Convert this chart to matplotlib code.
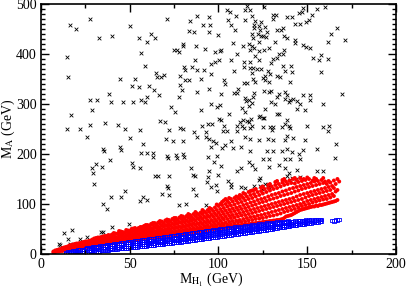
import numpy as np
import matplotlib
matplotlib.use("Agg")
import matplotlib.pyplot as plt
from matplotlib.ticker import MultipleLocator

plt.rcParams['font.family'] = ['Liberation Serif', 'DejaVu Serif']
plt.rcParams['mathtext.fontset'] = 'stix'

# excluded points (black crosses), (M_H1, M_A) in GeV
black_pts = [
    (27.6,470),(16.3,458),(19.7,451),(50.1,456),(70.8,470),(88.1,477),(94.5,475),(83.9,466),
    (91.5,459),(95.4,458),(83.2,446),(86.2,444),(94.5,445),(99.7,439),(32.5,433),(40.0,436),
    (55.0,433),(62.1,441),(64.4,433),(59.5,425),(79.8,421),(80.2,416),(74.9,408),(76.4,408),
    (77.9,404),(87.3,416),(92.2,411),(97.8,404),(56.2,403),(14.8,395),(86.5,388),(80.6,375),
    (81.0,368),(85.1,375),(87.7,369),(91.8,368),(95.6,380),(98.2,384),(58.4,377),(64.8,363),
    (65.5,355),(67.4,355),(69.3,358),(78.3,356),(81.0,348),(83.2,348),(90.0,351),(95.6,361),
    (44.5,351),(52.8,351),(15.2,355),(51.3,337),(55.0,335),(60.7,337),(63.7,329),(78.3,339),
    (79.4,329),(94.5,331),(88.1,324),(38.5,320),(27.6,308),(31.4,309),(39.6,305),(46.4,305),
    (52.0,304),(56.2,308),(58.4,304),(59.5,315),(66.7,318),(77.6,315),(73.4,295),(75.7,285),
    (90.0,289),(95.6,301),(99.0,295),(28.7,289),(16.7,278),(67.0,267),(70.0,265),(27.6,259),
    (36.2,263),(43.4,259),(47.1,251),(55.7,249),(14.5,251),(22.0,251),(78.3,253),(80.2,251),
    (90.7,256),(94.1,261),(96.3,261),(100.1,271),
    (25.7,235),(72.3,249),(86.2,245),(93.0,245),(93.0,234),(94.8,231),(87.7,235),(70.4,230),
    (74.5,226),(80.2,227),(96.7,226),(98.6,223),(95.6,214),(35.1,211),(35.5,206),(44.5,214),
    (44.9,209),(50.1,233),(57.6,221),(56.5,202),(59.9,202),(62.9,202),(63.3,194),(70.8,197),
    (71.5,193),(76.1,198),(76.4,193),(79.8,201),(80.6,195),(94.1,195),(97.4,185),(99.3,197),
    (38.9,189),(31.0,181),(28.7,173),(34.4,174),(29.5,162),(51.3,182),(51.6,175),(55.8,173),
    (64.0,157),(65.9,157),(71.9,157),(84.3,173),(85.8,159),(86.5,157),(94.5,167),(94.1,155),
    (99.7,159),(93.7,145),(95.6,134),(98.6,138),(98.9,127),(71.2,137),(71.5,133),(85.4,130),
    (87.3,118),(68.2,121),(72.3,118),(29.9,141),(39.6,114),(45.3,114),(47.5,127),(55.8,107),
    (57.6,115),(59.9,109),(35.1,101),(37.4,91),(77.5,98),(81.7,101),(93.0,98),(49.4,61),
    (40.0,54),(34.0,45),(34.7,45),(13.0,42),(17.5,49),(15.2,31),(22.0,31),(25.7,35),
    (9.9,21),(10.7,18),(16.3,21),
    (104.6,489),(106.5,485),(115.1,489),(117.7,488),(116.2,496),(125.6,495),(147.8,492),(155.3,491),
    (160.2,495),(109.9,476),(118.9,476),(105.4,468),(115.1,468),(120.7,467),(130.9,479),(132.4,479),
    (130.5,471),(138.4,475),(141.4,475),(145.2,483),(147.0,484),(152.7,479),(150.8,469),(149.3,465),
    (145.9,460),(143.3,460),(106.9,459),(120.0,459),(123.0,457),(123.8,464),(126.0,455),(120.0,453),
    (123.4,449),(109.5,449),(118.9,441),(127.2,445),(122.3,441),(123.8,436),(124.9,437),(126.8,435),
    (132.8,449),(135.4,449),(136.5,452),(166.9,452),(163.2,440),(171.1,429),(161.7,425),(119.6,433),
    (136.9,437),(138.8,433),(143.3,428),(142.9,423),(131.7,424),(122.6,424),(108.3,423),(114.0,416),
    (117.0,421),(118.9,417),(120.0,413),(117.7,408),(125.6,408),(128.3,412),(123.0,407),(110.6,401),
    (100.8,407),(101.6,408),(147.8,418),(149.3,415),(151.5,413),(134.3,401),(136.9,408),(136.5,400),
    (132.8,393),(130.9,391),(120.7,396),(122.6,389),(129.7,383),(117.7,385),(114.4,384),(106.9,388),
    (100.5,389),(114.4,375),(117.7,372),(119.3,372),(121.9,371),(124.1,371),(127.9,367),(129.0,360),
    (126.4,357),(125.2,353),(126.0,349),(128.6,344),(132.8,357),(134.6,355),(137.6,367),(136.2,377),
    (140.7,377),(141.4,364),(140.3,345),(118.9,363),(119.6,351),(114.4,343),(115.9,343),(120.7,345),
    (108.7,367),(103.1,348),(103.8,341),(153.1,392),(156.4,388),(157.9,399),(161.7,391),(157.9,365),
    (169.6,320),(147.8,319),(151.5,319),(137.6,325),(138.8,319),(137.3,311),(140.3,308),(141.8,311),
    (144.4,307),(145.9,300),(148.6,289),(151.5,308),(159.0,300),(144.1,291),(139.5,304),(133.9,320),
    (133.1,315),(129.7,305),(131.7,301),(132.8,281),(133.9,280),(138.8,269),(126.4,291),(123.4,276),
    (122.6,275),(124.9,272),(125.6,273),(117.4,308),(119.3,315),(120.0,323),(125.6,327),(128.3,325),
    (129.4,327),(111.0,331),(110.3,323),(108.7,323),(101.6,320),(114.8,313),(115.5,307),(118.9,303),
    (113.2,293),(117.0,296),(114.8,284),(114.0,269),(115.9,267),(117.4,264),(118.1,271),(112.1,264),
    (113.2,257),(118.9,256),(117.7,252),(114.4,252),(110.3,257),(105.7,280),(100.8,299),(101.2,268),
    (103.1,256),(125.2,255),(129.0,255),(130.9,255),(135.8,255),(137.6,260),(139.5,257),(140.3,253),
    (150.0,256),(159.0,255),(162.4,257),(130.1,249),
    (102.4,246),(104.6,247),(110.3,247),(161.7,246),(102.0,213),(103.4,218),(107.2,227),(115.1,235),
    (117.7,231),(123.0,229),(127.9,230),(130.5,229),(137.6,229),(138.4,237),(141.8,233),(148.6,229),
    (155.3,210),(166.2,221),(165.5,193),(108.3,213),(112.9,215),(117.7,207),(127.2,207),(130.5,207),
    (135.8,207),(138.8,210),(141.4,205),(145.2,201),(147.8,209),(125.2,190),(128.3,190),(137.3,191),
    (140.3,191),(145.9,190),(134.3,179),(117.4,185),(118.9,179),(101.2,177),(110.3,167),(112.9,173),
    (120.4,170),(128.6,174),(137.6,173),(144.4,169),(155.3,167),(159.0,167),(139.9,163),(138.8,157),
    (140.3,149),(141.4,153),(143.7,151),(145.9,154),(123.4,153),(122.6,149),(105.4,146),(106.9,141),
    (106.9,135),(112.5,135),(114.8,133),(120.0,137),(123.4,137),(126.2,141),(127.9,138),(128.6,134),
    (124.5,131),
]

# red circles, read column by column: M_H1 -> list of M_A
red_cols = [
    (7,[3,5]),(8,[4,7]),(9,[5,8]),(10,[5,9]),(11,[6,10]),(12,[6,9,12]),(13,[7,10,13]),
    (14,[7,11,14]),(15,[8,12,15]),(16,[9,13,17]),(17,[9,13,18]),(18,[10,14,19]),(19,[10,15,20]),
    (20,[11,16,21]),(22,[12,17,22]),(24,[13,18,24]),(26,[14,19,25]),(28,[15,21,27]),
    (30,[16,22,28,31]),(32,[17,23,29,33]),(34,[18,24,30,34]),(36,[19,25,31,36]),
    (38,[20,26,32,38]),(40,[21,27,33,39]),(42,[22,28,34,41]),(44,[23,29,36,43,46]),
    (46,[24,30,37,44]),(48,[25,31,38,45,48]),(50,[26,32,39,46]),(52,[27,33,40,47,51]),
    (54,[28,34,41,48]),(56,[29,35,42,49,54]),(58,[30,36,43,50,56]),(60,[31,37,44,51,58]),
    (62,[32,38,45,52,60]),(64,[33,39,46,54,62]),(66,[34,41,48,55,63]),(68,[35,42,49,57,65]),
    (70,[36,43,50,58,67]),(72,[37,44,52,60,68]),(74,[38,45,53,61,70]),(76,[39,46,54,63,72]),
    (78,[40,47,55,64,73]),(80,[41,48,57,66,75]),(82,[42,50,58,67,76]),(84,[43,51,60,69,78]),
    (86,[44,52,61,70,80]),(88,[45,53,62,72,81]),(90,[46,54,64,74,83]),(92,[47,56,65,75,85]),
    (94,[48,57,67,77,88]),(96,[49,58,68,79,90]),(98,[50,60,70,81,93]),(100,[51,61,72,83,96]),
    (102,[52,62,73,85,98,104]),(104,[53,63,75,87,100,110]),(106,[54,65,77,89,102,112]),
    (108,[55,66,78,91,105]),(110,[56,67,80,93,107,115]),(112,[57,68,82,95,110,118]),
    (114,[58,70,84,98,112,122]),(116,[59,72,86,100,115]),(118,[60,74,88,103,118,126]),
    (120,[61,75,90,105,120,128]),(122,[62,77,92,108,124]),(124,[63,78,94,110,126,133]),
    (126,[64,80,96,112,130]),(128,[65,82,98,115,132,138]),(130,[66,84,100,118,135]),
    (132,[67,86,102,120,138,144]),(134,[68,88,104,122,140]),(136,[70,90,106,125,143,148]),
    (138,[75,92,108,127,145]),(140,[77,94,110,130,147]),(142,[80,96,112,132,150]),
    (144,[84,98,115,134,148]),(146,[88,100,118,136,152]),(148,[90,103,120,138,150]),
    (150,[92,106,122,140,153]),(152,[94,108,124,142]),(154,[95,110,126,145,152]),
    (156,[96,112,128,146]),(158,[98,114,130,148]),(160,[100,116,132,145]),
    (162,[102,118,134,146]),(164,[104,120,136]),(166,[106,125,140]),(168,[145]),
]

# red circles between the columns above
red_cols_odd = [
    (21,[11,17,21]),(23,[12,18,23]),(25,[14,20,25]),(27,[15,21,26]),(29,[16,23,29]),
    (31,[17,20,26,32]),(33,[18,21,27,33]),(35,[19,22,28,35]),(37,[20,23,29,36]),
    (39,[21,24,30,37]),(41,[22,25,31,38,42]),(43,[23,26,32,40]),(45,[24,27,34,41,45]),
    (47,[25,28,35,42]),(49,[26,29,36,43,47]),(51,[27,30,37,44,50]),(53,[28,31,38,45,52]),
    (55,[29,32,39,46,52]),(57,[30,33,40,47,54]),(59,[31,34,41,48,55,58]),(61,[32,35,42,49,56]),
    (63,[33,36,43,50,58,62]),(65,[34,38,45,52,59]),(67,[35,39,46,53,61,66]),(69,[36,40,47,55,62]),
    (71,[37,41,48,56,64,69]),(73,[38,42,49,57,65]),(75,[39,43,51,59,67,72]),(77,[40,44,52,60,68]),
    (79,[41,45,53,62,70,76]),(81,[42,46,54,63,71]),(83,[43,47,56,64,73,80]),(85,[44,48,57,66,74]),
    (87,[45,49,58,67,76,84]),(89,[46,50,59,69,78]),(91,[47,51,60,70,80,88]),(93,[48,52,62,72,82]),
    (95,[49,53,63,74,84,92]),(97,[50,55,64,75,86]),(99,[51,56,66,77,88,99]),
    (101,[52,57,67,78,90,100]),(103,[53,58,69,80,92,107]),(105,[54,59,70,82,95,106]),
    (107,[55,60,72,84,97,110]),(109,[56,61,73,86,99,112]),(111,[57,63,75,88,102,113]),
    (113,[58,64,77,90,104,116]),(115,[59,65,78,92,107,120]),(117,[60,67,80,94,110,124]),
    (119,[61,68,82,97,112,127]),(121,[62,70,84,99,115,130]),(123,[63,71,86,102,118]),
    (125,[64,72,88,104,121,135]),(127,[65,74,90,106,124]),(129,[66,76,92,109,127,140]),
    (131,[67,77,94,111,130]),(133,[68,79,96,113,132,146]),(135,[69,81,98,116,135]),
    (137,[72,84,100,118,138,150]),(139,[76,86,102,120,140]),(141,[78,88,104,122,142]),
    (143,[82,90,106,125,141,152]),(145,[86,93,108,127,144]),(147,[89,96,110,130,146]),
    (149,[91,98,113,132,148]),(151,[93,100,116,134,150]),(153,[95,103,118,136,147]),
    (155,[97,105,120,138,150]),(157,[98,107,122,140]),(159,[99,109,124,142,152]),
    (161,[101,110,126,140]),(163,[103,113,128,143]),(165,[105,116,132,147]),(167,[108,128,150]),
]

# blue squares, read column by column
blue_cols = [
    (14,[1,3]),(16,[1,3,5]),(18,[1,3,6]),(20,[2,4,7]),(22,[2,5,8]),(24,[3,6,9]),
    (26,[4,7,10,12]),(28,[5,8,11,13]),(30,[5,8,11,14]),(32,[6,9,12,15]),(34,[7,10,13,16]),
    (36,[7,10,14,17]),(38,[8,11,15,18]),(40,[9,12,16,19]),(42,[10,13,17,20]),(44,[11,14,18,21]),
    (46,[11,15,19,22]),(48,[12,16,20,23]),(50,[13,16,20,24]),(52,[14,17,21,25]),(54,[14,18,22,26]),
    (56,[15,19,23,27]),(58,[16,20,24,28]),(60,[17,21,25,29]),(62,[17,21,26,30]),(64,[18,22,27,31]),
    (66,[19,23,28,32]),(68,[20,24,28,33]),(70,[21,25,29,34]),(72,[22,26,30,35]),(74,[22,27,31,36]),
    (76,[23,27,32,37]),(78,[24,28,33,38]),(80,[25,29,34,39]),(82,[26,30,35,40]),(84,[27,31,36,41]),
    (86,[28,32,37,42]),(88,[29,33,38,43]),(90,[30,34,39,44]),(92,[31,35,40,45]),(94,[32,36,40,46]),
    (96,[33,37,41,47]),(98,[34,38,42,47]),(100,[35,39,43,48]),(102,[36,40,44,49]),
    (104,[37,41,45,50]),(106,[38,42,46,50]),(108,[39,43,47,51]),(110,[40,44,48,52]),
    (112,[41,45,49,53]),(114,[42,46,50,54]),(116,[43,47,51,55]),(118,[44,48,52,56]),
    (120,[45,49,53,57]),(122,[46,50,54,57]),(124,[47,51,55,58]),(126,[48,52,56,59]),
    (128,[49,53,57,60]),(130,[50,54,58,61]),(132,[52,55,59,62]),(134,[53,56,60,62]),
    (136,[54,57,61,63]),(138,[55,58,62,64]),(140,[56,59,63,65]),(142,[57,60,64]),
    (144,[58,61,65]),(146,[59,62,66]),(148,[60,63,66]),(150,[61,64,67]),(152,[62,65,68]),
    (154,[63,66,68]),(156,[64,67,69]),(158,[66,69]),(164,[67]),(166,[68]),(168,[69]),
]

blue_cols_odd = [
    (15,[1,4]),(17,[2,4]),(19,[2,5,7]),(21,[2,5,8]),(23,[3,6,9]),(25,[4,7,10]),
    (27,[4,8,11,12]),(29,[5,9,12,14]),(31,[6,9,12,15]),(33,[6,10,13,16]),(35,[7,11,14,17]),
    (37,[8,11,15,18]),(39,[9,12,16,19]),(41,[9,13,17,20]),(43,[10,14,18,21]),(45,[11,15,19,22]),
    (47,[12,15,19,23]),(49,[12,16,20,24]),(51,[13,17,21,25]),(53,[14,18,22,26]),(55,[15,19,23,27]),
    (57,[16,20,24,28]),(59,[16,20,25,29]),(61,[17,21,26,30]),(63,[18,22,27,31]),(65,[19,23,27,32]),
    (67,[19,24,28,33]),(69,[20,25,29,34]),(71,[21,25,30,35]),(73,[22,26,31,36]),(75,[23,27,32,37]),
    (77,[23,28,33,38]),(79,[24,29,34,39]),(81,[25,30,35,40]),(83,[26,31,36,41]),(85,[27,32,37,42]),
    (87,[28,33,38,43]),(89,[29,34,39,44]),(91,[30,35,40,45]),(93,[31,36,41,46]),(95,[32,37,42,47]),
    (97,[33,38,43,48]),(99,[34,39,44,49]),(101,[35,40,45,50]),(103,[36,41,46,51]),
    (105,[37,42,47,52]),(107,[38,43,48,53]),(109,[39,44,49,54]),(111,[40,45,50,55]),
    (113,[41,46,51,55]),(115,[42,47,52,56]),(117,[43,48,53,57]),(119,[44,49,54,58]),
    (121,[45,50,55,59]),(123,[46,51,56,60]),(125,[47,52,57,61]),(127,[48,53,58,62]),
    (129,[49,54,59,62]),(131,[51,55,60,63]),(133,[52,56,61,64]),(135,[53,57,62,65]),
    (137,[54,58,63,65]),(139,[55,60,64,66]),(141,[57,61,65]),(143,[58,62,66]),(145,[59,63,67]),
    (147,[60,64,67]),(149,[61,65,68]),(151,[62,66,69]),(153,[63,67]),(155,[64,68]),(157,[65,69]),
    (165,[66]),(167,[68]),
]

bx, by = np.array(black_pts).T
red = np.array([(x, y) for x, ys in red_cols + red_cols_odd for y in ys])
blue = np.array([(x, y) for x, ys in blue_cols + blue_cols_odd for y in ys])

fig = plt.figure(figsize=(4.07, 2.89), dpi=100)
ax = fig.add_axes([0.1007, 0.1211, 0.8723, 0.865])

ax.scatter(bx, by, marker='x', s=7, c='black', linewidths=0.6)
ax.scatter(red[:, 0], red[:, 1], marker='o', s=8, c='red', edgecolors='none')
ax.scatter(blue[:, 0], blue[:, 1], marker='s', s=7, facecolors='none', edgecolors='blue', linewidths=0.6)

ax.set_xlim(0, 200)
ax.set_ylim(0, 500)
ax.xaxis.set_major_locator(MultipleLocator(50))
ax.xaxis.set_minor_locator(MultipleLocator(25))
ax.yaxis.set_major_locator(MultipleLocator(100))
ax.yaxis.set_minor_locator(MultipleLocator(10))
ax.tick_params(which='both', direction='in', top=True, right=True, labelsize=10, pad=3)
ax.tick_params(which='major', length=6, width=1)
ax.tick_params(which='minor', length=3, width=1)
for s in ax.spines.values():
    s.set_linewidth(1.2)

ax.set_xlabel(r'M$_{\mathrm{H}_1}$ (GeV)', fontsize=10)
ax.set_ylabel(r'M$_\mathrm{A}$ (GeV)', fontsize=10)
ax.xaxis.set_label_coords(0.48, -0.068)
ax.yaxis.set_label_coords(-0.068, 0.5)

fig.savefig('out.png', dpi=100)
